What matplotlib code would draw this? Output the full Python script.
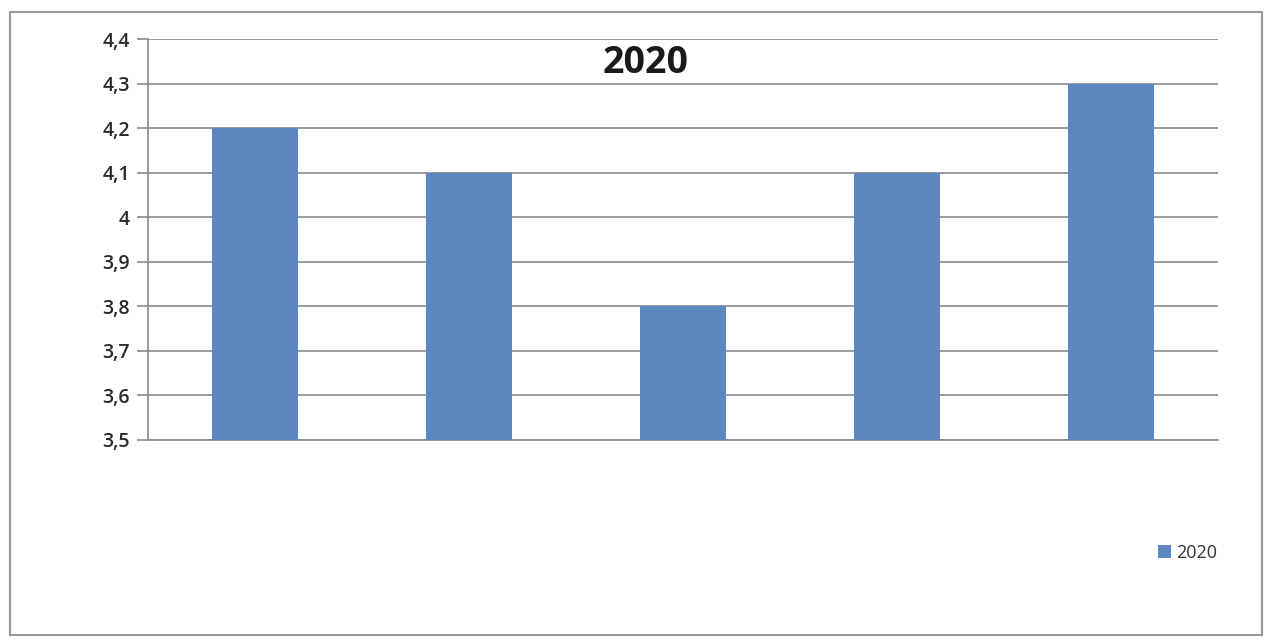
import matplotlib
matplotlib.use("Agg")
import matplotlib.pyplot as plt
from matplotlib.patches import Rectangle
from matplotlib.ticker import FuncFormatter

categories = ["1", "2", "3", "4", "5"]
values_2020 = [4.2, 4.1, 3.8, 4.1, 4.3]
series_name = "2020"
yticks = [3.5, 3.6, 3.7, 3.8, 3.9, 4.0, 4.1, 4.2, 4.3, 4.4]

plt.rcParams['font.family'] = ['Open Sans', 'DejaVu Sans']

fig = plt.figure(figsize=(12.68, 6.39), dpi=100)
W, H = 1268, 639
ax = fig.add_axes([148 / W, 1 - 440 / H, (1218 - 148) / W, (440 - 39) / H])

x = range(len(categories))
ax.bar(x, values_2020, width=0.4, bottom=0, color="#5C87BF", label=series_name, zorder=3)
ax.set_xlim(-0.5, len(categories) - 0.5)
ax.set_ylim(3.5, 4.4)
ax.set_yticks(yticks)
ax.yaxis.set_major_formatter(FuncFormatter(lambda v, p: (f"{v:.1f}".rstrip("0").rstrip(".")).replace(".", ",")))
ax.set_xticks([])
ax.grid(axis="y", color="#8a8a8a", linewidth=1.2, zorder=0)
for s in ["top", "right"]:
    ax.spines[s].set_visible(False)
ax.spines["left"].set_color("#8a8a8a")
ax.spines["bottom"].set_color("#8a8a8a")
ax.spines["left"].set_linewidth(1.2)
ax.spines["bottom"].set_linewidth(1.2)
ax.tick_params(axis="y", direction="out", length=8, width=1.2, color="#8a8a8a",
               labelsize=14, labelcolor="#2a2a2a", pad=5)
for lbl in ax.get_yticklabels():
    lbl.set_fontweight("semibold")
ax.text(0.465, 0.94, series_name, transform=ax.transAxes, ha="center", va="center",
        fontsize=27, fontweight="bold", color="#1a1a1a")

leg = fig.legend(loc="center left", bbox_to_anchor=(1142 / W, 1 - 553 / H), frameon=False,
                 fontsize=13, handlelength=0.7, handleheight=0.7, handletextpad=0.3,
                 labelcolor="#333333")

fig.patches.append(Rectangle((10 / W, 1 - 635 / H), (1262 - 10) / W, (635 - 12) / H,
                             transform=fig.transFigure, fill=False, edgecolor="#9a9a9a",
                             linewidth=1.5))

fig.savefig("out.png", dpi=100)
